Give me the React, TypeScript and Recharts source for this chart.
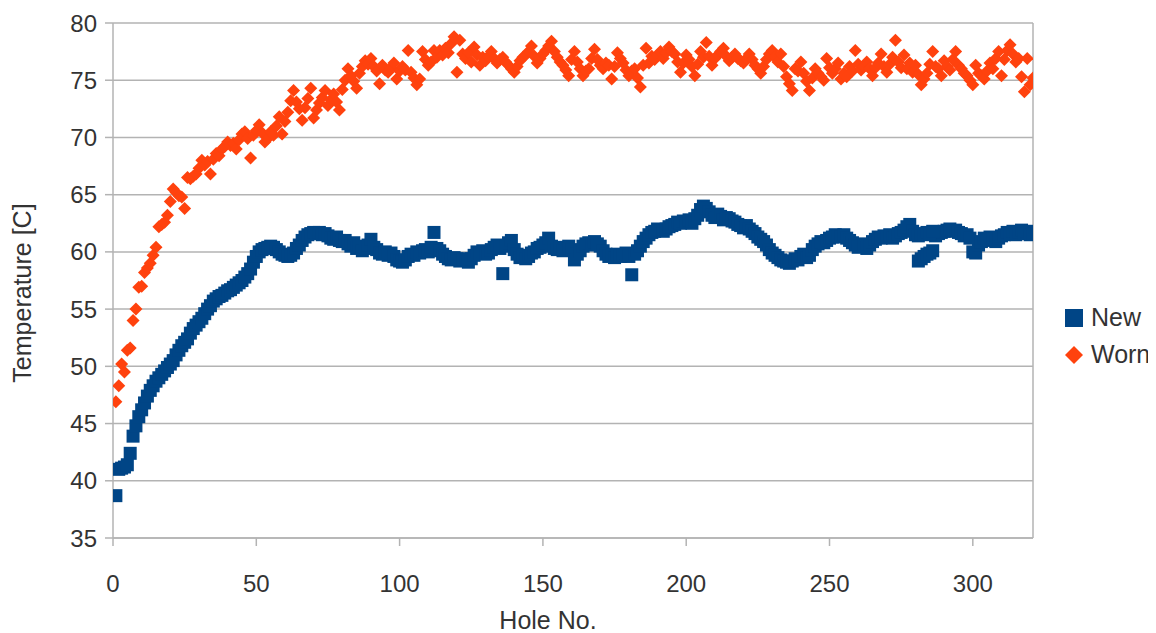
import React from "react";
import { ScatterChart, Scatter, XAxis, YAxis, CartesianGrid, ReferenceLine } from "recharts";

// temperature per hole, index 0 = hole 1
const newTemps = [
  38.7, 41.0, 41.1, 41.2, 41.4, 42.4, 43.9, 44.8, 45.6, 46.2,
  46.8, 47.4, 47.9, 48.3, 48.7, 49.0, 49.3, 49.6, 49.9, 50.2,
  50.5, 51.0, 51.4, 51.8, 52.1, 52.4, 52.9, 53.3, 53.6, 53.9,
  54.2, 54.6, 55.0, 55.3, 55.7, 55.9, 56.1, 56.2, 56.4, 56.6,
  56.7, 56.9, 57.1, 57.3, 57.5, 57.8, 58.1, 58.5, 59.1, 59.6,
  60.0, 60.2, 60.3, 60.4, 60.5, 60.4, 60.2, 60.0, 59.8, 59.7,
  59.6, 59.7, 59.9, 60.3, 60.6, 61.0, 61.3, 61.5, 61.6, 61.7,
  61.6, 61.7, 61.5, 61.6, 61.4, 61.2, 61.1, 61.3, 61.0, 60.9,
  61.0, 60.7, 60.5, 60.8, 60.3, 60.5, 60.1, 60.3, 60.6, 61.1,
  60.4, 60.2, 59.9, 59.8, 60.0, 59.7, 59.9, 59.6, 59.3, 59.2,
  59.1, 59.3, 59.6, 59.8, 59.7, 60.0, 59.9, 60.1, 60.2, 60.0,
  60.4, 61.7, 60.3, 60.1, 59.8, 59.6, 59.4, 59.3, 59.5, 59.4,
  59.2, 59.4, 59.3, 59.1, 59.4, 59.7, 60.0, 59.9, 60.1, 59.8,
  59.9, 60.2, 60.4, 60.6, 60.3, 58.1, 60.5, 60.8, 61.0, 60.2,
  59.8, 59.5, 59.7, 59.4, 59.6, 59.9, 60.0, 60.3, 60.4, 60.6,
  60.8, 61.2, 60.5, 60.3, 60.2, 60.4, 60.1, 60.3, 60.5, 60.2,
  59.3, 59.8, 60.1, 60.5, 60.7, 60.8, 60.6, 60.9, 60.7, 60.5,
  60.1, 59.8, 59.6, 59.7, 59.5, 59.8, 59.6, 59.7, 59.9, 59.6,
  58.0, 59.8, 60.1, 60.5, 60.9, 61.2, 61.5, 61.7, 61.8, 62.0,
  61.9, 61.8, 62.0, 62.2, 62.3, 62.4, 62.6, 62.5, 62.7, 62.6,
  62.8, 62.5, 62.9, 63.2, 63.7, 64.0, 63.8, 63.5, 63.2, 63.0,
  63.3, 63.1, 62.8, 63.0, 62.9, 62.7, 62.6, 62.4, 62.3, 62.1,
  62.3, 62.0, 61.8, 61.6, 61.3, 61.1, 60.9, 60.6, 60.2, 59.9,
  59.7, 59.5, 59.3, 59.2, 59.1, 59.0, 59.2, 59.4, 59.3, 59.6,
  59.8, 59.5, 59.7, 60.2, 60.5, 60.7, 60.9, 60.8, 61.0, 61.2,
  61.3, 61.5, 61.4, 61.3, 61.5, 61.2, 61.0, 60.8, 60.6, 60.4,
  60.7, 60.5, 60.3, 60.6, 60.9, 61.1, 61.3, 61.2, 61.4, 61.3,
  61.5, 61.2, 61.4, 61.6, 61.7, 61.9, 62.2, 62.4, 61.8, 61.5,
  59.2, 59.4, 59.6, 59.8, 59.9, 60.1, 61.4, 61.6, 61.7, 61.8,
  61.9, 62.0, 61.8, 61.9, 61.7, 61.6, 61.4, 61.5, 61.2, 60.0,
  59.9, 60.6, 60.9, 61.2, 61.0, 61.3, 61.1, 60.9, 61.2, 61.4,
  61.5, 61.7, 61.6, 61.8, 61.5, 61.7, 61.9, 61.6, 61.8, 61.5,
  61.6,
];

// second row of "New" readings around hole 281-286
const newExtra: [number, number][] = [
  [281, 61.4], [282, 61.6], [283, 61.5], [284, 61.7], [285, 61.6], [286, 61.8],
];

const wornTemps = [
  46.9, 48.3, 50.2, 49.5, 51.4, 51.6, 54.0, 55.0, 56.9, 57.0,
  58.2, 58.6, 59.0, 59.7, 60.4, 62.2, 62.4, 62.6, 63.2, 64.4,
  65.5, 65.2, 64.9, 64.8, 63.8, 66.5, 66.4, 66.6, 66.8, 67.3,
  68.0, 67.6, 67.9, 66.8, 68.1, 68.6, 68.4, 69.0, 69.2, 69.6,
  69.3, 69.5, 69.0, 69.8, 70.3, 70.5, 69.9, 68.2, 70.2, 70.6,
  71.1, 70.4, 69.6, 69.9, 70.5, 70.2, 71.0, 71.8, 70.3, 71.4,
  72.2, 73.2, 74.1, 73.1, 72.5, 71.5, 72.6, 73.4, 74.3, 71.7,
  72.4, 73.0, 73.5, 74.1, 72.8, 73.3, 73.8, 73.1, 72.4, 74.2,
  75.0, 76.0, 75.4, 74.9, 74.3, 75.6, 76.2, 76.7, 76.4, 76.9,
  76.2, 75.8, 74.7, 76.3, 75.9, 75.7, 76.1, 76.5, 75.1, 75.8,
  76.2, 75.9, 77.6, 75.7, 75.2, 74.6, 75.1, 77.5, 76.8, 76.3,
  76.6, 77.6, 77.0, 77.6, 77.2, 77.8, 77.4, 78.2, 78.8, 75.7,
  78.5, 77.3, 76.9, 77.4, 76.6, 77.9, 77.2, 76.3, 77.0, 76.7,
  77.1, 77.5, 76.9, 76.5, 76.8, 77.0, 76.6, 76.3, 76.0, 75.7,
  76.2, 76.7, 77.0, 77.2, 77.5, 78.0, 77.1, 76.5, 76.9, 77.3,
  77.6, 78.0, 78.4, 77.5, 77.0, 76.6, 76.3, 75.9, 75.4, 76.8,
  77.5, 76.6, 76.0, 75.4, 75.8, 76.0, 76.9, 77.7, 76.8, 76.3,
  76.0, 76.5, 76.3, 75.1, 76.2, 77.4, 76.9, 76.5, 75.9, 75.4,
  75.8, 76.0, 75.2, 74.4, 76.3, 77.8, 76.5, 77.1, 76.8, 77.2,
  77.5, 76.9, 77.4, 77.9, 77.5, 77.3, 76.6, 75.7, 76.5, 77.2,
  76.8, 76.2, 75.4, 76.4, 77.5, 77.0, 78.3, 77.1, 76.3, 76.9,
  77.2, 77.5, 77.8, 77.1, 76.7, 77.0, 77.3, 76.9, 76.7, 76.5,
  76.9, 77.3, 76.8, 76.3, 76.0, 75.6, 76.2, 76.8, 77.3, 77.6,
  77.0, 76.6, 77.3, 76.2, 75.3, 74.7, 74.1, 76.0, 75.8, 76.6,
  75.6, 74.9, 74.1, 75.2, 76.0, 75.6, 75.3, 75.0, 76.9, 76.1,
  75.6, 76.0, 76.5, 75.1, 75.6, 75.3, 76.2, 75.8, 77.6, 76.4,
  75.9, 76.2, 76.6, 76.0, 75.4, 76.1, 76.5, 77.3, 76.2, 75.7,
  76.4, 77.0, 78.5, 76.6, 76.1, 77.2, 76.0, 76.5, 75.7, 76.3,
  75.5, 74.6, 75.1, 75.6, 76.4, 77.5, 76.2, 76.0, 75.4, 76.7,
  76.2, 75.9, 76.8, 77.5, 76.3, 76.0, 75.6, 75.4, 75.0, 74.6,
  76.3, 75.6, 75.4, 75.1, 75.8, 76.5, 76.0, 76.9, 77.5, 75.4,
  76.8, 77.6, 78.1, 77.3, 76.6, 76.9, 75.3, 74.0, 76.9, 74.6,
  75.2,
];

const xTicks = [0, 50, 100, 150, 200, 250, 300];
const yTicks = [35, 40, 45, 50, 55, 60, 65, 70, 75, 80];

const BLUE = "#004586";
const ORANGE = "#ff420e";
const GRID = "#b3b3b3";
const TEXT = "#333333";
const FONT = '"Liberation Sans", Arial, sans-serif';

const newData = [
  ...newTemps.map((t, i) => ({ hole: i + 1, temp: t })),
  ...newExtra.map(([h, t]) => ({ hole: h, temp: t })),
];
const wornData = wornTemps.map((t, i) => ({ hole: i + 1, temp: t }));

const SquareDot = (props: any) => {
  const { cx, cy } = props;
  if (cx == null || cy == null) return null;
  return <rect x={cx - 6.5} y={cy - 6.5} width={13} height={13} fill={BLUE} />;
};

const DiamondDot = (props: any) => {
  const { cx, cy } = props;
  if (cx == null || cy == null) return null;
  const r = 6.5;
  return (
    <polygon
      points={`${cx},${cy - r} ${cx + r},${cy} ${cx},${cy + r} ${cx - r},${cy}`}
      fill={ORANGE}
    />
  );
};

export default function App() {
  const tickStyle = { fill: TEXT, fontSize: 24, fontFamily: FONT };
  return (
    <div style={{ position: "relative", width: 1148, height: 625, fontFamily: FONT }}>
      <ScatterChart width={1148} height={625} margin={{ top: 15, right: 123, bottom: 15, left: 0 }}>
        <CartesianGrid horizontal vertical={false} stroke={GRID} strokeWidth={1.5} />
        <XAxis
          type="number"
          dataKey="hole"
          domain={[0, 321]}
          ticks={xTicks}
          allowDataOverflow
          height={80}
          tick={tickStyle}
          tickSize={8}
          tickMargin={29}
          axisLine={{ stroke: GRID, strokeWidth: 1.5 }}
          tickLine={{ stroke: GRID, strokeWidth: 1.5 }}
          label={() => (
            <text x={540} y={612} textAnchor="middle" dominantBaseline="central" fill={TEXT} fontSize={25} fontFamily={FONT}>
              Hole No.
            </text>
          )}
        />
        <YAxis
          type="number"
          dataKey="temp"
          domain={[35, 80]}
          ticks={yTicks}
          width={105}
          tick={tickStyle}
          tickSize={8}
          tickMargin={8}
          axisLine={{ stroke: GRID, strokeWidth: 1.5 }}
          tickLine={{ stroke: GRID, strokeWidth: 1.5 }}
          label={() => (
            <text
              x={14}
              y={285}
              transform="rotate(-90 14 285)"
              textAnchor="middle"
              dominantBaseline="central"
              fill={TEXT}
              fontSize={25}
              fontFamily={FONT}
            >
              Temperature [C]
            </text>
          )}
        />
        <ReferenceLine x={321} stroke={GRID} strokeWidth={1.5} />
        <Scatter name="New" data={newData} shape={SquareDot} isAnimationActive={false} />
        <Scatter name="Worn" data={wornData} shape={DiamondDot} isAnimationActive={false} />
      </ScatterChart>
      <div style={{ position: "absolute", left: 1057, top: 291, fontSize: 25, color: TEXT, lineHeight: "37px" }}>
        <div style={{ display: "flex", alignItems: "center" }}>
          <svg width={18} height={18} style={{ marginRight: 8 }}>
            <rect x={0} y={0} width={18} height={18} fill={BLUE} />
          </svg>
          New
        </div>
        <div style={{ display: "flex", alignItems: "center" }}>
          <svg width={18} height={18} style={{ marginRight: 8 }}>
            <polygon points="9,0 18,9 9,18 0,9" fill={ORANGE} />
          </svg>
          Worn
        </div>
      </div>
    </div>
  );
}
